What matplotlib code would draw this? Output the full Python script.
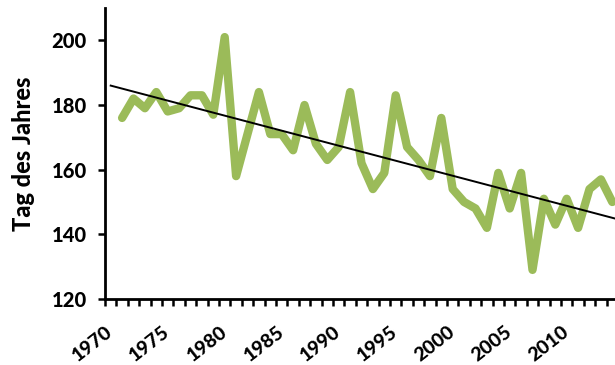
import numpy as np
import matplotlib
matplotlib.use("Agg")
import matplotlib.pyplot as plt

years = list(range(1971, 2015))
values = [176, 182, 179, 184, 178, 179, 183, 183, 177, 201,
          158, 171, 184, 171, 171, 166, 180, 168, 163, 167,
          184, 162, 154, 159, 183, 167, 163, 158, 176, 154,
          150, 148, 142, 159, 148, 159, 129, 151, 143, 151,
          142, 154, 157, 150]
categories = list(range(1970, 2015))
label_years = [1970, 1975, 1980, 1985, 1990, 1995, 2000, 2005, 2010]
y_ticks = [120, 140, 160, 180, 200]

plt.rcParams['font.family'] = ['Lato', 'DejaVu Sans']

fig = plt.figure(figsize=(6.15, 3.65), dpi=100)
ax = fig.add_axes([105/615, 66/365, 513/615, 291/365])

idx = {y: i for i, y in enumerate(categories)}
xs = np.array([idx[y] for y in years])
ax.plot(xs, values, color='#9BBB59', lw=6.0, solid_joinstyle='round',
        solid_capstyle='round', zorder=2)

# linear trendline
coef = np.polyfit(xs, values, 1)
tx = np.array([0, len(categories) - 0.5])
ax.plot(tx, np.polyval(coef, tx), color='black', lw=1.4, zorder=3)

ax.set_xlim(-0.5, len(categories) - 0.5)
ax.set_ylim(120, 210)

ax.set_yticks(y_ticks)
ax.set_yticklabels([str(v) for v in y_ticks], fontsize=14.5, fontweight='black')
ax.tick_params(axis='y', length=5, width=1.8, direction='out', pad=8)

ax.set_xticks(np.arange(-0.5, len(categories) + 0.5, 1.0))
ax.set_xticklabels([])
ax.tick_params(axis='x', which='major', length=5, width=1.8, direction='out')
ax.set_xticks([idx[y] for y in label_years], minor=True)
ax.set_xticklabels([str(y) for y in label_years], minor=True, rotation=38,
                   rotation_mode='anchor', ha='right', va='center',
                   fontsize=14, fontweight='black')
ax.tick_params(axis='x', which='minor', length=0, pad=22)

for s in ['top', 'right']:
    ax.spines[s].set_visible(False)
for s in ['left', 'bottom']:
    ax.spines[s].set_linewidth(2)

ax.set_ylabel('Tag des Jahres', fontsize=17, fontweight='black', labelpad=12)

fig.savefig('out.png', dpi=100)
